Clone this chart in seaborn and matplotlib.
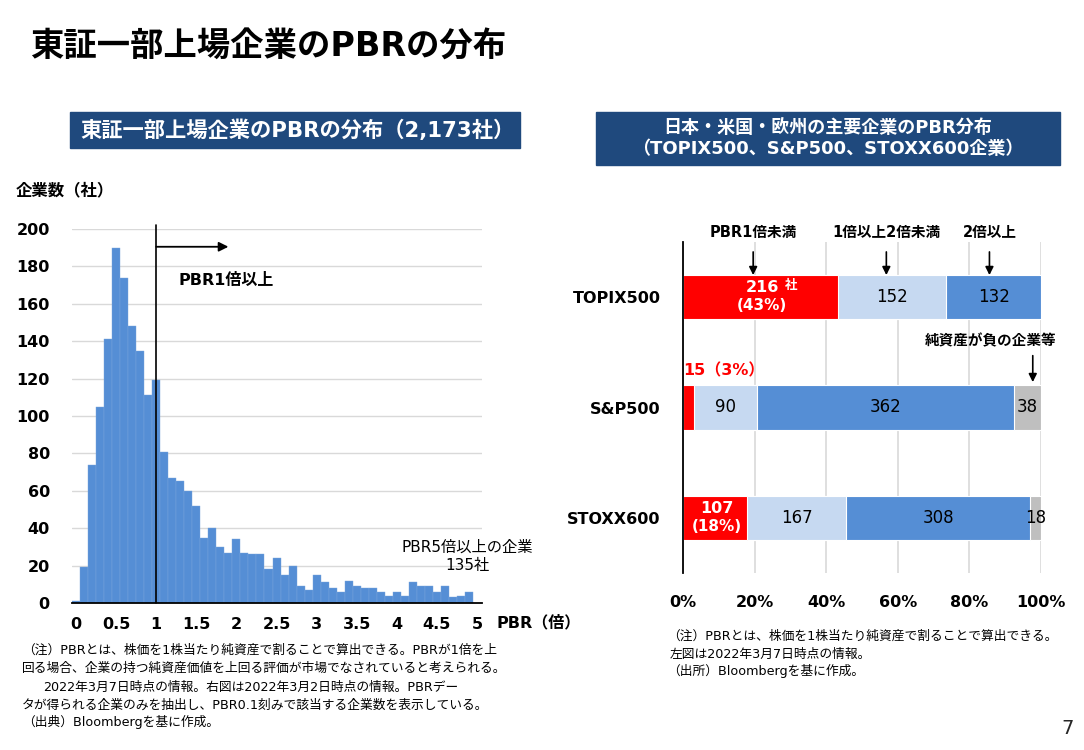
import matplotlib
matplotlib.use('Agg')
import pandas as pd
import matplotlib.pyplot as plt
from matplotlib.patches import Rectangle
import seaborn as sns

# Left chart: number of TSE 1st section companies per PBR bin (0.1 steps)
pbr_bins = [round(i * 0.1, 1) for i in range(50)]
pbr_counts = [1, 19, 74, 105, 141, 190, 174, 148, 135, 111,
              119, 81, 67, 65, 60, 52, 35, 40, 30, 27,
              34, 27, 26, 26, 18, 24, 15, 20, 9, 7,
              15, 11, 8, 6, 12, 9, 8, 8, 6, 4,
              6, 4, 11, 9, 9, 6, 9, 3, 4, 6]
pbr_over5 = 135
x_ticks = [0, 0.5, 1, 1.5, 2, 2.5, 3, 3.5, 4, 4.5, 5]
y_ticks = [0, 20, 40, 60, 80, 100, 120, 140, 160, 180, 200]

# Right chart: companies by PBR band
markets = ['TOPIX500', 'S&P500', 'STOXX600']
below1 = [216, 15, 107]
one_to_two = [152, 90, 167]
above2 = [132, 362, 308]
negative = [0, 38, 18]
pct_ticks = [0, 20, 40, 60, 80, 100]

W, H = 1084, 750
blue_dark = '#1f497d'
bar_blue = '#558ed5'
light_blue = '#c6d9f1'
red = '#ff0000'
grey = '#bfbfbf'
grid_c = '#d9d9d9'

sns.set_style('white')
plt.rcParams['font.family'] = ['DejaVu Sans', 'Noto Sans CJK JP']
plt.rcParams['text.color'] = 'black'
plt.rcParams['xtick.color'] = 'black'
plt.rcParams['ytick.color'] = 'black'


def fx(px):
    return px / W


def fy(py):
    return 1 - py / H


fig = plt.figure(figsize=(W / 100, H / 100), dpi=100)

# page title
fig.text(fx(30), fy(47), '東証一部上場企業のPBRの分布', fontsize=24,
         fontweight='bold', va='center', ha='left')

# header boxes
fig.patches.append(Rectangle((fx(70), fy(148)), fx(450), 36 / H,
                             transform=fig.transFigure, color=blue_dark))
fig.text(fx(80), fy(130), '東証一部上場企業のPBRの分布（2,173社）',
         color='white', fontsize=15.3, fontweight='bold', va='center')
fig.patches.append(Rectangle((fx(596), fy(165)), fx(464), 53 / H,
                             transform=fig.transFigure, color=blue_dark))
fig.text(fx(828), fy(128), '日本・米国・欧州の主要企業のPBR分布',
         color='white', fontsize=13, fontweight='bold', va='center', ha='center')
fig.text(fx(828), fy(149), '（TOPIX500、S&P500、STOXX600企業）',
         color='white', fontsize=13, fontweight='bold', va='center', ha='center')

# ---- left histogram ----
ax1 = fig.add_axes([fx(72), fy(603), fx(410), 374 / H])
hist = pd.DataFrame({'pbr': pbr_bins, 'count': pbr_counts})
sns.barplot(data=hist, x='pbr', y='count', native_scale=True, orient='x',
            width=1.0, color=bar_blue, saturation=1, edgecolor='#7aa6dd',
            linewidth=0.3, ax=ax1)
ax1.set_xlim(-0.05, 5.062)
ax1.set_ylim(0, 200)
ax1.set_xticks(x_ticks)
ax1.set_xticklabels([f'{v:g}' for v in x_ticks], fontsize=11.5, fontweight='bold')
ax1.set_yticks(y_ticks)
ax1.set_yticklabels([str(v) for v in y_ticks], fontsize=11.5, fontweight='bold')
ax1.tick_params(axis='x', length=0, pad=10)
ax1.tick_params(axis='y', length=0, pad=16)
ax1.set_xlabel('')
ax1.set_ylabel('')
ax1.yaxis.grid(True, color=grid_c, lw=1)
ax1.set_axisbelow(True)
for s in ['left', 'top', 'right']:
    ax1.spines[s].set_visible(False)
ax1.spines['bottom'].set_color('black')
ax1.spines['bottom'].set_linewidth(1.3)

ax1.axvline(1, ymin=0, ymax=1.012, color='black', lw=1.2, clip_on=False, zorder=3)
ax1.annotate('', xy=(1.9, 190.5), xytext=(1, 190.5),
             arrowprops=dict(arrowstyle='-|>', color='black', lw=1.3,
                             mutation_scale=14, shrinkA=0, shrinkB=0))
ax1.text(1.28, 172.5, 'PBR1倍以上', fontsize=11.5, fontweight='bold', va='center')
ax1.text(4.88, 25, f'PBR5倍以上の企業\n{pbr_over5}社', fontsize=11,
         ha='center', va='center', linespacing=1.3)

fig.text(fx(16), fy(190), '企業数（社）', fontsize=11.8, fontweight='bold', va='center')
fig.text(fx(497), fy(623), 'PBR（倍）', fontsize=11.5, fontweight='bold', va='center')

# ---- right stacked bars ----
ax2 = fig.add_axes([fx(683), fy(573), fx(358), 331 / H])
cols = ['below1', 'one_to_two', 'above2', 'negative']
colors = [red, light_blue, bar_blue, grey]
df = pd.DataFrame({'market': markets, 'below1': below1, 'one_to_two': one_to_two,
                   'above2': above2, 'negative': negative})
counts = df[cols]
pct = counts.div(counts.sum(axis=1), axis=0) * 100
cum = pct.cumsum(axis=1)
cum['market'] = markets
for col, color in reversed(list(zip(cols, colors))):
    sns.barplot(data=cum, x=col, y='market', orient='y', color=color,
                saturation=1, width=0.4, edgecolor='white', linewidth=0.8, ax=ax2)

ax2.set_xlim(0, 100)
ax2.set_ylim(2.5, -0.5)
ax2.set_xticks(pct_ticks)
ax2.set_xticklabels([f'{v}%' for v in pct_ticks], fontsize=11.5, fontweight='bold')
ax2.set_yticks(range(len(markets)))
ax2.set_yticklabels(markets, fontsize=11.5, fontweight='bold')
ax2.tick_params(axis='x', length=0, pad=16)
ax2.tick_params(axis='y', length=0, pad=16)
ax2.set_xlabel('')
ax2.set_ylabel('')
ax2.xaxis.grid(True, color=grid_c, lw=1.2)
ax2.set_axisbelow(True)
for s in ['bottom', 'top', 'right']:
    ax2.spines[s].set_visible(False)
ax2.spines['left'].set_color('black')
ax2.spines['left'].set_linewidth(1.3)

# segment labels
for i in range(len(markets)):
    for col in cols[1:]:
        v = counts.loc[i, col]
        if v == 0:
            continue
        mid = cum.loc[i, col] - pct.loc[i, col] / 2
        ax2.text(mid, i, str(v), ha='center', va='center', fontsize=12)

# red segment labels
for i in [0, 2]:
    mid = pct.loc[i, 'below1'] / 2 + 0.5
    ax2.text(mid, i - 0.085, str(below1[i]), color='white', fontsize=11.5,
             fontweight='bold', ha='center', va='center')
    ax2.text(mid, i + 0.075, f'({pct.loc[i, "below1"]:.0f}%)', color='white',
             fontsize=11, fontweight='bold', ha='center', va='center')
ax2.text(pct.loc[0, 'below1'] / 2 + 8.6, -0.11, '社', color='white', fontsize=9,
         fontweight='bold', ha='center', va='center')
ax2.text(0, 0.67, f'{below1[1]}（{pct.loc[1, "below1"]:.0f}%）', color=red,
         fontsize=11.5, fontweight='bold', ha='left', va='center')

# band headers with arrows
for label, xp in [('PBR1倍未満', 19.6), ('1倍以上2倍未満', 56.8), ('2倍以上', 85.6)]:
    ax2.text(xp, -0.585, label, fontsize=10.5, fontweight='bold',
             ha='center', va='center')
    ax2.annotate('', xy=(xp, -0.2), xytext=(xp, -0.41),
                 arrowprops=dict(arrowstyle='-|>', color='black', lw=1.2,
                                 mutation_scale=12, shrinkA=0, shrinkB=0))
ax2.text(86, 0.393, '純資産が負の企業等', fontsize=10.5, fontweight='bold',
         ha='center', va='center')
ax2.annotate('', xy=(97.7, 0.77), xytext=(97.7, 0.53),
             arrowprops=dict(arrowstyle='-|>', color='black', lw=1.2,
                             mutation_scale=12, shrinkA=0, shrinkB=0))

# footnotes
note_l = [
    (22, 650, '（注）PBRとは、株価を1株当たり純資産で割ることで算出できる。PBRが1倍を上'),
    (22, 668, '回る場合、企業の持つ純資産価値を上回る評価が市場でなされていると考えられる。'),
    (43, 687, '2022年3月7日時点の情報。右図は2022年3月2日時点の情報。PBRデー'),
    (22, 705, 'タが得られる企業のみを抽出し、PBR0.1刻みで該当する企業数を表示している。'),
    (22, 722, '（出典）Bloombergを基に作成。'),
]
note_r = [
    (667, 636, '（注）PBRとは、株価を1株当たり純資産で割ることで算出できる。'),
    (670, 654, '左図は2022年3月7日時点の情報。'),
    (667, 671, '（出所）Bloombergを基に作成。'),
]
for x, y, t in note_l + note_r:
    fig.text(fx(x), fy(y), t, fontsize=9.2, va='center', ha='left', color='black')

fig.text(fx(1074), fy(728), '7', fontsize=14, ha='right', va='center', color='#262626')

fig.savefig('out.png', dpi=100)
